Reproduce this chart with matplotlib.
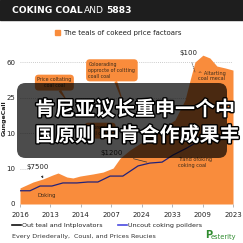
import matplotlib
matplotlib.use('Agg')
from matplotlib import pyplot as plt
from matplotlib.patches import FancyBboxPatch, Rectangle
from matplotlib.lines import Line2D
import matplotlib.patheffects as pe

plt.rcParams['font.family'] = ['DejaVu Sans']

# data
years = ['2016', '2013', '2014', '2007', '2024', '2033', '2009', '2023']
y_ticks = [0, 15, 30, 45, 60]
y_labels = ['0', '10', '10', '25', '60']

area_x = [0, 0.43, 0.76, 1.08, 1.25, 1.54, 1.74, 1.97, 2.4, 2.73, 3.06, 3.29,
          3.61, 4.11, 4.6, 5.09, 5.42, 5.59, 5.75, 6.01, 6.24, 6.47, 6.74, 7.0]
area_y = [6.8, 9.3, 10.6, 12.3, 13.1, 11.4, 11.0, 11.8, 12.7, 13.5, 15.2, 19.4,
          22.8, 27.0, 31.3, 35.5, 43.9, 52.4, 60.0, 62.9, 61.7, 58.3, 57.5, 56.6]

line_x = [0, 0.33, 0.66, 1.05, 1.41, 1.87, 2.23, 2.56, 2.96, 3.38, 3.88, 4.27,
          4.67, 5.03, 5.49, 5.92]
line_y = [5.6, 5.6, 7.6, 7.6, 8.9, 8.9, 9.3, 9.3, 11.8, 11.8, 16.1, 17.3,
          17.7, 20.7, 23.7, 27.0]

orange = '#f98c3c'
navy = '#22227a'
ink = '#3a2a1a'

fig = plt.figure(figsize=(2.43, 2.43), dpi=100)
W = 243.0

def fx(px):
    return px / W

def fy(py):
    return 1 - py / W

# header bar
fig.patches.append(Rectangle((0, fy(20)), 1, 20 / W, transform=fig.transFigure,
                             color='#1e1e1e', zorder=0))
renderer = fig.canvas.get_renderer()
x0 = 12
for part, weight, gap in [('COKING COAL', 'bold', 1), ('AND', 'normal', 3),
                          ('5883', 'bold', 0)]:
    t = fig.text(fx(x0), fy(10.5), part, color='white', fontsize=6.6,
                 fontweight=weight, va='center')
    x0 += t.get_window_extent(renderer).width + gap

# top legend
fig.patches.append(Rectangle((fx(55), fy(35)), 5 / W, 5 / W,
                             transform=fig.transFigure, color=orange))
fig.text(fx(63), fy(32.5), 'The teals of cokeed price factoars', fontsize=5,
         color='#222222', va='center')

ax = fig.add_axes([fx(20), fy(204), 213 / W, 153.8 / W])
ax.set_xlim(0, 7)
ax.set_ylim(0, 65)

for t in y_ticks[2:]:
    ax.axhline(t, color='#bbbbbb', lw=0.6, ls=(0, (1, 1.5)), zorder=0)
ax.axhline(y_ticks[1], xmax=0.05, color='#bbbbbb', lw=0.6, ls=(0, (1, 1.5)), zorder=0)

ax.fill_between(area_x, area_y, 0, color=orange, lw=0, zorder=1)
ax.plot(line_x, line_y, color=navy, lw=0.9, zorder=2)

ax.set_xticks(range(len(years)))
ax.set_xticklabels(years)
ax.set_yticks(y_ticks)
ax.set_yticklabels(y_labels)
ax.tick_params(axis='x', labelsize=5, length=2.5, width=0.5, color='#999999',
               pad=3, labelcolor='#222222')
ax.tick_params(axis='y', labelsize=5, length=0, pad=3.5, labelcolor='#222222')
for s in ax.spines.values():
    s.set_visible(False)

fig.text(fx(4), fy(118), 'GungeCall', rotation=90, fontsize=4.5,
         fontweight='bold', color='#222222', va='center', ha='center')

# annotations
ax.annotate('$7500', xy=(0.76, 10.8), xytext=(0.59, 15.6), fontsize=5,
            ha='center', va='center', color='#222222',
            arrowprops=dict(arrowstyle='-|>', lw=0.5, color='#333333',
                            mutation_scale=3, shrinkA=3, shrinkB=0))
ax.text(0.56, 3.8, 'Doking', fontsize=3.8, color=ink, va='center')
ax.annotate('$1200', xy=(4.17, 17.7), xytext=(3.0, 21.5), fontsize=5,
            ha='center', va='center', color='#222222',
            arrowprops=dict(arrowstyle='-', lw=0.5, color='#333333',
                            shrinkA=6, shrinkB=0))
ax.text(5.19, 19.8, 'Trand ofoking\ncoking coal', fontsize=3.6, color=ink,
        va='top', linespacing=1.3)
ax.annotate('$100', xy=(5.75, 55.8), xytext=(5.55, 63.8), fontsize=5,
            ha='center', va='center', color='#222222',
            arrowprops=dict(arrowstyle='-', lw=0.5, ls=':', color='#333333',
                            shrinkA=3, shrinkB=0))
ax.text(6.31, 54.1, '^ Altarting\ncoal mecal', fontsize=3.6, color=ink,
        ha='center', va='center', linespacing=1.2)

box = dict(boxstyle='round,pad=0.5,rounding_size=0.8', fc=orange, ec='none')
ax.annotate('Price coltating\ncoal coal', xy=(1.6, 42.5), xytext=(1.13, 51.3),
            fontsize=3.4, color=ink, ha='center', va='center', bbox=box,
            linespacing=1.3,
            arrowprops=dict(arrowstyle='wedge,tail_width=0.6', fc=orange,
                            ec='none', shrinkA=0, shrinkB=0))
ax.annotate('Coloerading\nopprocte of coltting\ncoall coal', xy=(3.45, 40.5),
            xytext=(2.25, 56.5), fontsize=3.4, color=ink, ha='left',
            va='center', bbox=box, linespacing=1.3,
            arrowprops=dict(arrowstyle='wedge,tail_width=0.6', fc=orange,
                            ec='none', shrinkA=0, shrinkB=0))
ax.text(2.2, 31.0, 'Colorenical\ncoal coal', fontsize=3.4, color=ink,
        ha='left', va='center', bbox=box, linespacing=1.3)

# bottom legend
fig.lines.append(Line2D([fx(12), fx(21)], [fy(225), fy(225)],
                        transform=fig.transFigure, color='#111111', lw=1.2))
fig.text(fx(22), fy(225), 'Out teal and Intplovators', fontsize=4.6,
         color='#222222', va='center')
fig.lines.append(Line2D([fx(118), fx(127)], [fy(225), fy(225)],
                        transform=fig.transFigure, color='#4a4ae0', lw=1.2))
fig.text(fx(128), fy(225), 'Uncout coking poilders', fontsize=4.6,
         color='#222222', va='center')

fig.text(fx(12), fy(236), 'Every Driederally,  Cousl, and Prices Reucies',
         fontsize=4.6, color='#333333', va='center')
fig.text(fx(205), fy(235), 'P', fontsize=7, color='#2e8b2e', va='center',
         fontweight='bold')
fig.text(fx(211), fy(236.5), 'esterity', fontsize=4.8, color='#2e8b2e',
         va='center')

# caption overlay
fig.patches.append(FancyBboxPatch((fx(17), fy(158)), 210 / W, 75 / W,
                                  boxstyle='round,pad=0,rounding_size=0.035',
                                  transform=fig.transFigure, fc='black',
                                  ec='none', alpha=0.7, zorder=5))
for txt, py in [('肯尼亚议长重申一个中', 109), ('国原则 中肯合作成果丰', 135)]:
    fig.text(fx(35), fy(py), txt, fontsize=14.4, fontweight='bold', color='white',
             va='center', family=['Noto Sans CJK SC', 'DejaVu Sans'], zorder=6,
             path_effects=[pe.withStroke(linewidth=2, foreground='black')])

fig.savefig('out.png', dpi=100)
